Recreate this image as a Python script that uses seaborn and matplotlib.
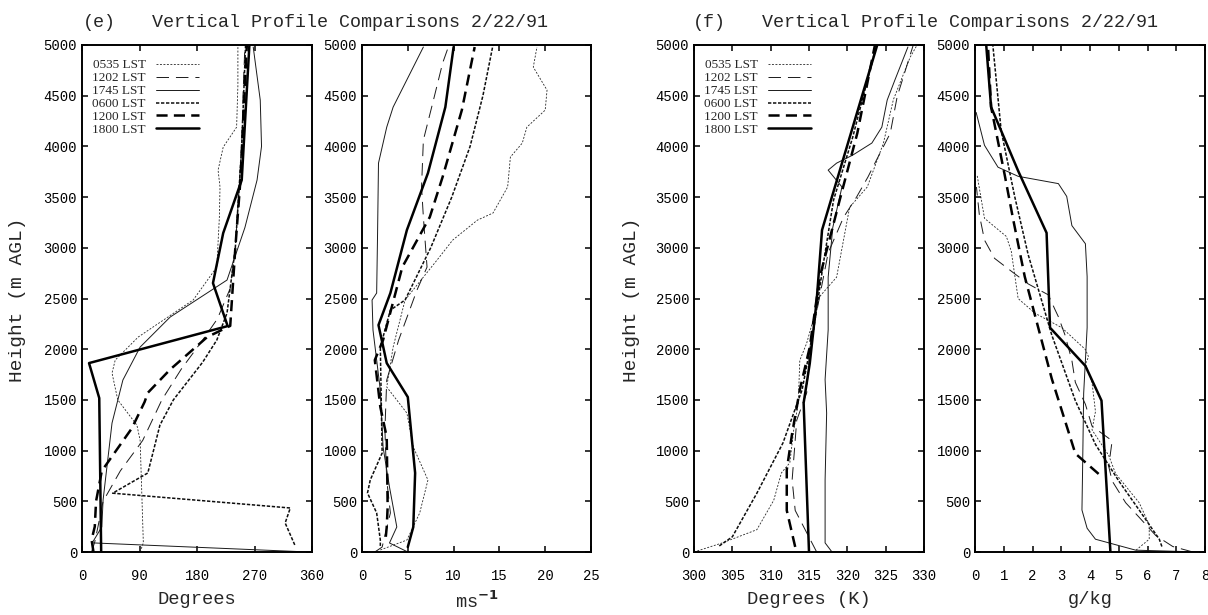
import matplotlib
matplotlib.use("Agg")
import matplotlib.pyplot as plt
import seaborn as sns
import numpy as np

# ---------------- data ----------------
times = ["0535 LST", "1202 LST", "1745 LST", "0600 LST", "1200 LST", "1800 LST"]

# Panel (e) left: wind direction (degrees)
dir_h = {
    "0535 LST": [0, 90, 1100, 1250, 1500, 1765, 1893, 2120, 2485, 2810, 3300, 3600, 3766, 3993, 4190, 4600, 5000],
    "1202 LST": [0, 100, 250, 500, 800, 1100, 1300, 1500, 1800, 2100, 2300, 2600, 3000, 3500, 4000, 4500, 5000],
    "1745 LST": [0, 90, 247, 513, 838, 1272, 1696, 2021, 2317, 2682, 3200, 3668, 4000, 4457, 4980],
    "0600 LST": [70, 286, 434, 580, 779, 1252, 1500, 1873, 2090, 2357, 3000, 4000, 5000],
    "1200 LST": [0, 120, 250, 500, 800, 1220, 1480, 1570, 1800, 2120, 2230, 3000, 3670, 5000],
    "1800 LST": [0, 1518, 1863, 2228, 2652, 3145, 3668, 5000],
}
dir_v = {
    "0535 LST": [91, 96, 91, 86, 56, 47, 52, 88, 174, 211, 215, 216, 213, 221, 242, 244, 244],
    "1202 LST": [15, 20, 25, 33, 60, 95, 110, 125, 155, 190, 212, 232, 240, 245, 250, 252, 255],
    "1745 LST": [355, 16, 31, 33, 39, 47, 64, 91, 138, 227, 255, 274, 281, 279, 268],
    "0600 LST": [333, 318, 326, 48, 103, 122, 143, 189, 211, 227, 240, 250, 256],
    "1200 LST": [18, 15, 20, 22, 31, 78, 98, 103, 138, 196, 232, 240, 248, 258],
    "1800 LST": [30, 27, 11, 228, 205, 221, 250, 262],
}

# Panel (e) right: wind speed (m/s)
spd_h = {
    "0535 LST": [20, 118, 385, 710, 1035, 1370, 1627, 2021, 2485, 2711, 2880, 3076, 3273, 3343, 3600, 3895, 4033, 4190, 4358, 4555, 4782, 4980],
    "1202 LST": [0, 49, 385, 710, 1203, 1696, 2090, 2583, 2810, 3303, 3600, 4062, 4457, 4821, 5000],
    "1745 LST": [0, 89, 247, 641, 1035, 1597, 2189, 2485, 2554, 3145, 3835, 4190, 4388, 4980],
    "0600 LST": [60, 118, 385, 582, 710, 976, 2021, 2386, 2485, 3000, 3500, 4000, 4500, 5000],
    "1200 LST": [150, 247, 444, 1134, 1430, 1893, 2090, 2810, 3303, 3698, 4358, 4980],
    "1800 LST": [49, 247, 779, 1528, 1863, 2238, 2554, 3175, 3737, 4388, 4980],
}
spd_v = {
    "0535 LST": [2.0, 4.9, 6.3, 7.2, 5.6, 4.9, 2.7, 3.4, 4.7, 6.7, 8.2, 9.9, 12.6, 14.3, 15.9, 16.2, 17.5, 18.0, 20.0, 20.2, 18.7, 19.1],
    "1202 LST": [1.4, 2.2, 3.1, 2.7, 2.5, 2.7, 4.0, 6.0, 7.1, 6.7, 6.5, 6.7, 7.8, 8.8, 9.5],
    "1745 LST": [5.0, 3.0, 3.8, 3.0, 2.3, 2.0, 1.2, 1.1, 1.6, 1.7, 1.8, 2.7, 3.4, 6.7],
    "0600 LST": [2.0, 2.0, 1.6, 0.6, 0.9, 2.2, 2.0, 3.1, 4.7, 7.5, 9.8, 11.8, 13.2, 14.3],
    "1200 LST": [2.6, 2.7, 2.8, 2.7, 2.0, 1.4, 2.3, 4.4, 7.4, 8.8, 10.9, 12.3],
    "1800 LST": [5.0, 5.6, 5.8, 5.0, 2.7, 1.8, 3.1, 4.9, 7.2, 9.1, 10.0],
}

# Panel (f) left: potential temperature (K)
th_h = {
    "0535 LST": [0, 90, 220, 510, 780, 880, 1200, 1470, 1890, 2060, 2520, 2710, 3400, 3600, 4030, 4460, 4880, 5000],
    "1202 LST": [0, 410, 710, 1300, 1570, 2020, 2950, 3300, 3500, 3700, 3865, 4130, 4490, 5000],
    "1745 LST": [0, 90, 710, 1370, 1700, 2190, 2710, 3200, 3600, 3766, 3835, 3914, 4033, 4190, 4457, 4654, 4980],
    "0600 LST": [60, 150, 580, 1075, 1600, 2190, 2810, 3470, 4090, 5000],
    "1200 LST": [50, 410, 810, 1170, 1600, 2020, 2710, 3470, 4130, 5000],
    "1800 LST": [0, 1470, 1860, 2480, 3175, 5000],
}
th_v = {
    "0535 LST": [300.0, 303.7, 308.2, 310.4, 311.4, 312.5, 313.0, 313.6, 313.8, 314.7, 316.4, 318.6, 320.3, 322.6, 324.7, 326.0, 328.2, 329.1],
    "1202 LST": [316.0, 313.2, 312.8, 313.4, 314.7, 315.1, 317.5, 319.5, 321.2, 322.7, 323.8, 325.6, 326.5, 328.6],
    "1745 LST": [318.0, 317.1, 317.1, 317.3, 317.1, 317.5, 317.5, 318.1, 319.3, 317.5, 318.6, 320.7, 323.2, 324.5, 325.2, 326.2, 327.9],
    "0600 LST": [303.3, 305.0, 308.2, 311.6, 314.1, 315.6, 316.8, 318.2, 320.7, 323.8],
    "1200 LST": [313.2, 312.1, 312.1, 312.8, 313.8, 315.1, 316.4, 319.0, 321.3, 323.6],
    "1800 LST": [315.0, 314.3, 315.1, 316.0, 316.7, 323.9],
}

# Panel (f) right: mixing ratio (g/kg)
q_h = {
    "0535 LST": [18, 126, 270, 486, 773, 953, 1205, 1385, 1673, 1853, 1925, 1997, 2212, 2356, 2500, 2968, 3112, 3291, 3723],
    "1202 LST": [0, 54, 162, 342, 486, 701, 845, 1097, 1241, 1457, 1673, 1889, 2140, 2320, 2392, 2536, 2644, 2770, 2896, 3076, 3328, 3600],
    "1745 LST": [0, 18, 126, 234, 414, 773, 1565, 2212, 2716, 3040, 3219, 3507, 3633, 3705, 3795, 4011, 4335],
    "0600 LST": [54, 126, 414, 701, 1061, 1493, 2140, 2932, 3507, 4155, 5000],
    "1200 LST": [770, 971, 1709, 2212, 2716, 3291, 3723, 4388, 5000],
    "1800 LST": [0, 1493, 1835, 2212, 3147, 3759, 4388, 5000],
}
q_v = {
    "0535 LST": [5.6, 6.06, 6.06, 5.71, 4.89, 4.65, 4.07, 4.19, 4.07, 3.84, 3.95, 3.84, 3.02, 2.08, 1.5, 1.26, 1.09, 0.33, 0.07],
    "1202 LST": [7.58, 6.88, 6.29, 5.71, 5.24, 4.77, 4.65, 4.77, 4.07, 3.84, 3.49, 3.37, 3.13, 2.9, 2.78, 2.55, 1.85, 1.26, 0.68, 0.33, 0.15, 0.05],
    "1745 LST": [7.8, 5.59, 4.19, 3.9, 3.72, 3.74, 3.78, 3.9, 3.9, 3.84, 3.37, 3.19, 2.9, 1.5, 0.8, 0.33, 0.04],
    "0600 LST": [6.5, 6.41, 5.71, 5.0, 4.19, 3.49, 2.67, 1.85, 1.38, 0.91, 0.62],
    "1200 LST": [4.30, 3.49, 2.67, 2.2, 1.73, 1.32, 1.03, 0.56, 0.45],
    "1800 LST": [4.71, 4.40, 3.84, 2.61, 2.49, 1.5, 0.56, 0.39],
}

height_ticks = list(range(0, 5001, 500))
dir_ticks = [0, 90, 180, 270, 360]
spd_ticks = [0, 5, 10, 15, 20, 25]
th_ticks = [300, 305, 310, 315, 320, 325, 330]
q_ticks = [0, 1, 2, 3, 4, 5, 6, 7, 8]

# ---------------- styles ----------------
sns.set_style("ticks")
plt.rcParams["lines.scale_dashes"] = False
plt.rcParams["font.family"] = ["Liberation Mono", "DejaVu Sans Mono"]
plt.rcParams["axes.linewidth"] = 1.4

styles = {
    "0535 LST": dict(lw=0.6, ls=(0, (1.4, 1.1)), color="0.15"),
    "1202 LST": dict(lw=0.7, ls=(0, (9, 5)), color="0.1"),
    "1745 LST": dict(lw=0.7, ls="-", color="0.1"),
    "0600 LST": dict(lw=1.1, ls=(0, (2.4, 1.2)), color="0.05"),
    "1200 LST": dict(lw=1.8, ls=(0, (8, 4.5)), color="black"),
    "1800 LST": dict(lw=1.8, ls="-", color="black"),
}

fig = plt.figure(figsize=(12.08, 6.15), dpi=100)
W, H = 1208.0, 615.0
b = (H - 552) / H
hh = 507 / H
ax1 = fig.add_axes([82 / W, b, 230 / W, hh])
ax2 = fig.add_axes([362 / W, b, 229 / W, hh])
ax3 = fig.add_axes([694 / W, b, 230 / W, hh])
ax4 = fig.add_axes([975 / W, b, 230 / W, hh])

panels = [
    (ax1, dir_h, dir_v, (0, 360), dir_ticks, "Degrees"),
    (ax2, spd_h, spd_v, (0, 25), spd_ticks, r"ms$^{\mathbf{-1}}$"),
    (ax3, th_h, th_v, (300, 330), th_ticks, "Degrees (K)"),
    (ax4, q_h, q_v, (0, 8), q_ticks, "g/kg"),
]

for ax, hd, vd, xl, xt, xlab in panels:
    for t in times:
        st = styles[t]
        sns.lineplot(x=vd[t], y=hd[t], sort=False, estimator=None, ax=ax,
                     color=st["color"], linewidth=st["lw"], linestyle=st["ls"],
                     label=t, legend=False)
    ax.set_xlim(*xl)
    ax.set_ylim(0, 5000)
    ax.set_xticks(xt)
    ax.set_yticks(height_ticks)
    ax.set_xticklabels([str(v) for v in xt])
    ax.set_yticklabels([str(v) for v in height_ticks])
    ax.tick_params(axis="both", direction="in", length=4.5, width=1.1,
                   top=True, right=True, labelsize=10, colors="black")
    ax.tick_params(axis="y", pad=3.5)
    ax.tick_params(axis="x", pad=12)
    ax.set_xlabel(xlab, fontsize=13.5, labelpad=6)
    ax.set_ylabel("")
    for sp in ax.spines.values():
        sp.set_visible(True)
        sp.set_color("black")

for ax in (ax1, ax3):
    handles, labels = ax.get_legend_handles_labels()
    leg = ax.legend(handles, labels, loc="upper left", bbox_to_anchor=(0.045, 0.972),
                    frameon=False, markerfirst=False, handlelength=3.3,
                    handletextpad=0.75, labelspacing=0.05, borderpad=0, borderaxespad=0,
                    prop={"family": "Liberation Serif", "size": 9.5})

fig.text(18 / W, 1 - 300 / H, "Height (m AGL)", rotation=90, ha="center", va="center", fontsize=14)
fig.text(632 / W, 1 - 300 / H, "Height (m AGL)", rotation=90, ha="center", va="center", fontsize=14)

fig.text(83 / W, 1 - 27 / H, "(e)", ha="left", va="baseline", fontsize=13.2)
fig.text(152 / W, 1 - 27 / H, "Vertical Profile Comparisons 2/22/91", ha="left", va="baseline", fontsize=13.2)
fig.text(693 / W, 1 - 27 / H, "(f)", ha="left", va="baseline", fontsize=13.2)
fig.text(762 / W, 1 - 27 / H, "Vertical Profile Comparisons 2/22/91", ha="left", va="baseline", fontsize=13.2)

fig.savefig("out.png", dpi=100, facecolor="white")
